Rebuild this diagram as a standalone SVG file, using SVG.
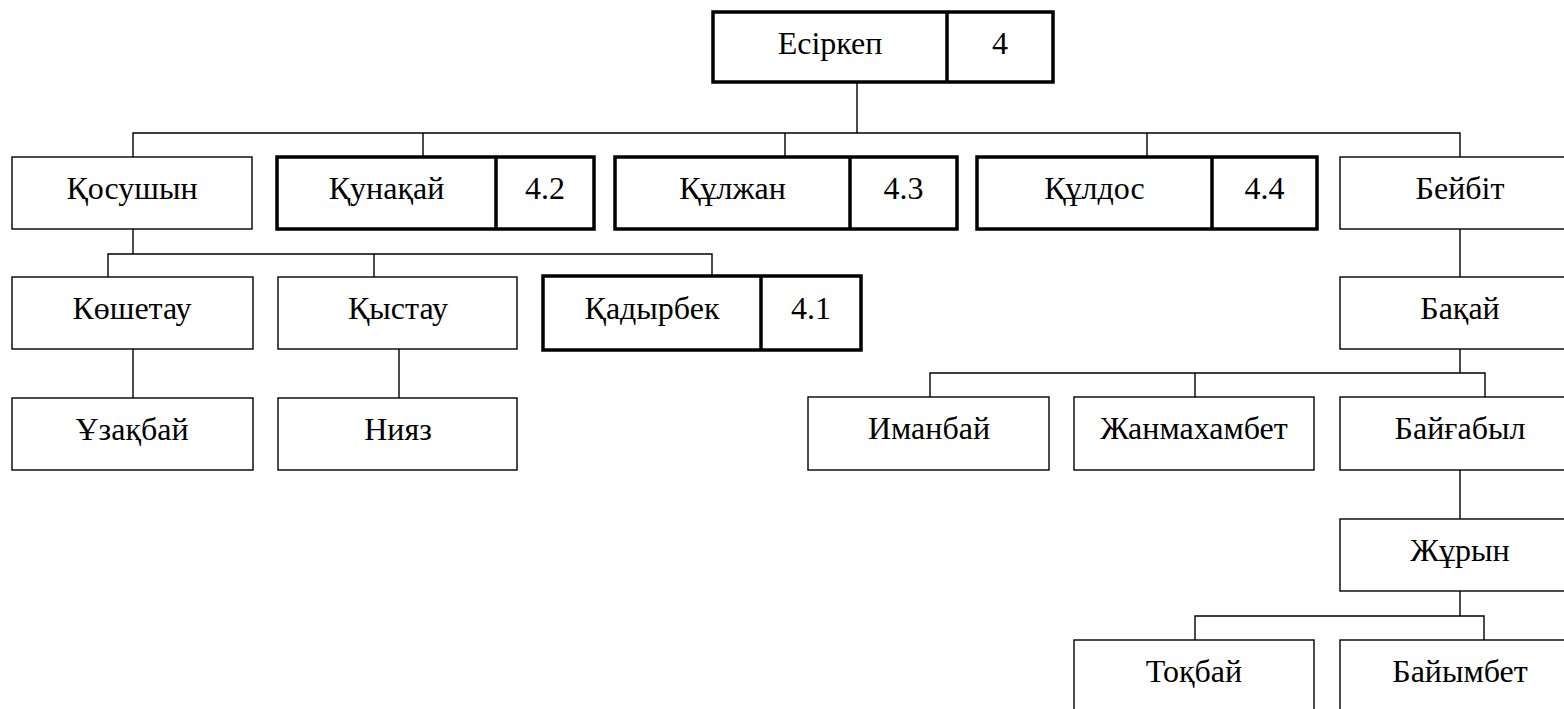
<svg xmlns="http://www.w3.org/2000/svg" width="1564" height="709" viewBox="0 0 1564 709" font-family="'Liberation Serif', 'Times New Roman', Times, 'DejaVu Serif', serif">
<style>
.bg{fill:#fff}
.n rect,.n line{fill:#fff;stroke:#000;stroke-width:1.4}
.t rect,.t line{fill:#fff;stroke:#000;stroke-width:3.5}
text{font-family:'Liberation Serif','Times New Roman',Times,'DejaVu Serif',serif;font-size:32px;fill:#000;text-anchor:middle}
.c path{fill:none;stroke:#000;stroke-width:1.4}
</style>
<rect class="bg" x="0" y="0" width="1564" height="709"/>
<g class="c" id="connectors">
<path d="M857 82V133M133 157V133H1460V157M423 133V157M785 133V157M1147 133V157"/>
<path d="M133 229V254M108 277V254H712V277M374 254V277"/>
<path d="M133 349V398M399 349V398"/>
<path d="M1460 229V277M1460 349V373M930 397V373H1485V397M1195 373V397"/>
<path d="M1460 470V519M1460 591V616M1195 640V616H1484V640"/>
</g>
<g class="t" id="n-esirkep"><rect x="713" y="12" width="340" height="70"/><line x1="947" y1="12" x2="947" y2="82"/><text x="830" y="54">Есіркеп</text><text x="1000" y="54">4</text></g>
<g class="n" id="n-kosushyn"><rect x="12" y="157" width="240" height="72"/><text x="132" y="199">Қосушын</text></g>
<g class="t" id="n-kunakai"><rect x="277" y="157" width="317" height="72"/><line x1="496" y1="157" x2="496" y2="229"/><text x="386.5" y="199">Қунақай</text><text x="545" y="199">4.2</text></g>
<g class="t" id="n-kulzhan"><rect x="615" y="157" width="342" height="72"/><line x1="850" y1="157" x2="850" y2="229"/><text x="732.5" y="199">Құлжан</text><text x="903.5" y="199">4.3</text></g>
<g class="t" id="n-kuldos"><rect x="977" y="157" width="340" height="72"/><line x1="1212" y1="157" x2="1212" y2="229"/><text x="1094.5" y="199">Құлдос</text><text x="1264.5" y="199">4.4</text></g>
<g class="n" id="n-beibit"><rect x="1340" y="157" width="240" height="72"/><text x="1460" y="199">Бейбіт</text></g>
<g class="n" id="n-koshetau"><rect x="12" y="277" width="241" height="72"/><text x="132" y="319">Көшетау</text></g>
<g class="n" id="n-kystau"><rect x="278" y="277" width="239" height="72"/><text x="398" y="319">Қыстау</text></g>
<g class="t" id="n-kadyrbek"><rect x="543" y="276" width="318" height="74"/><line x1="761" y1="276" x2="761" y2="350"/><text x="652" y="319">Қадырбек</text><text x="811" y="319">4.1</text></g>
<g class="n" id="n-bakai"><rect x="1340" y="277" width="240" height="72"/><text x="1460" y="319">Бақай</text></g>
<g class="n" id="n-uzakbai"><rect x="12" y="398" width="241" height="72"/><text x="132" y="440">Ұзақбай</text></g>
<g class="n" id="n-niyaz"><rect x="278" y="398" width="239" height="72"/><text x="398" y="440">Нияз</text></g>
<g class="n" id="n-imanbai"><rect x="808" y="397" width="241" height="73"/><text x="929" y="439">Иманбай</text></g>
<g class="n" id="n-zhanmakhambet"><rect x="1074" y="397" width="240" height="73"/><text x="1194" y="439">Жанмахамбет</text></g>
<g class="n" id="n-baigabyl"><rect x="1340" y="397" width="240" height="73"/><text x="1460" y="439">Байғабыл</text></g>
<g class="n" id="n-zhuryn"><rect x="1340" y="519" width="240" height="72"/><text x="1460" y="561">Жұрын</text></g>
<g class="n" id="n-tokbai"><rect x="1074" y="640" width="240" height="80"/><text x="1194" y="682">Тоқбай</text></g>
<g class="n" id="n-baiymbet"><rect x="1340" y="640" width="240" height="80"/><text x="1460" y="682">Байымбет</text></g>
</svg>
